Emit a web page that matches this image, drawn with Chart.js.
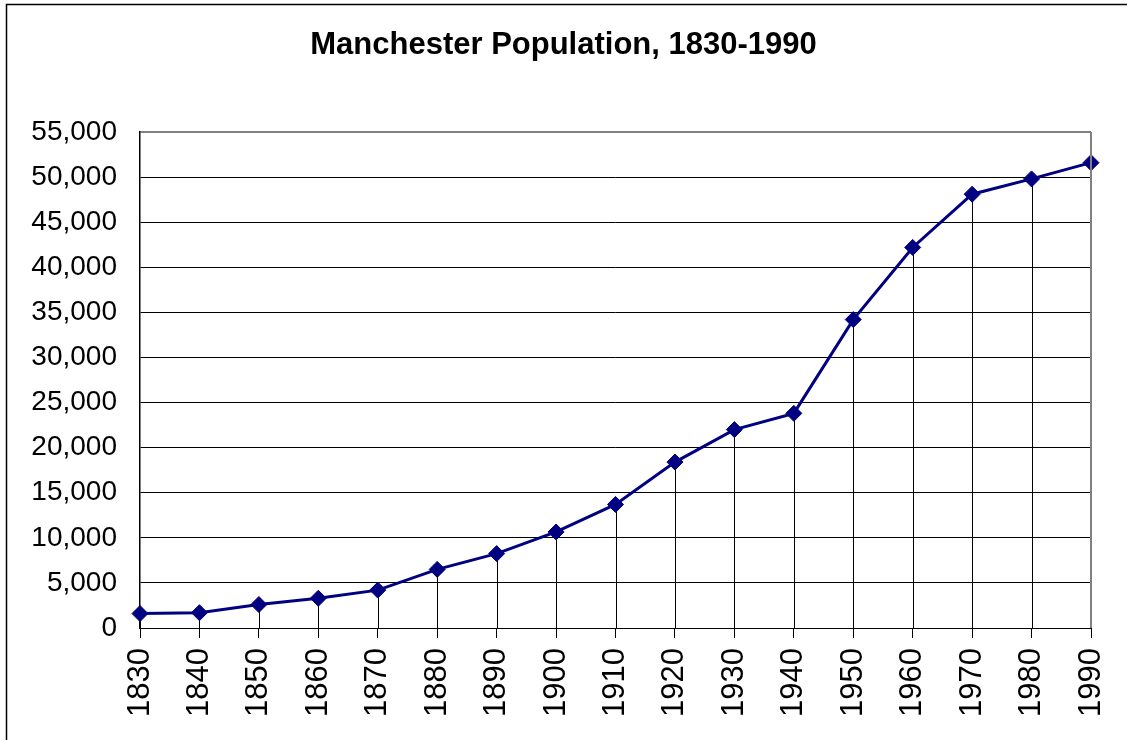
<!DOCTYPE html>
<html>
<head>
<meta charset="utf-8">
<script src="https://cdn.jsdelivr.net/npm/chart.js@4/dist/chart.umd.min.js"></script>
<style>
  body { margin: 0; background: #fff; }
  canvas { display: block; }
</style>
</head>
<body>
<canvas id="grafica" width="1127" height="740"></canvas>
<script>
var years = ['1830', '1840', '1850', '1860', '1870', '1880', '1890', '1900', '1910',
             '1920', '1930', '1940', '1950', '1960', '1970', '1980', '1990'];
var population = [1600, 1700, 2600, 3300, 4200, 6500, 8250, 10650, 13700,
                  18400, 22000, 23800, 34200, 42200, 48100, 49800, 51600];
var yMin = 0, yMax = 55000, yStep = 5000;
var titulo = 'Manchester Population, 1830-1990';

var fuente = '"Liberation Sans", Arial, sans-serif';

// marco exterior, titulo y borde gris del area de trazado
var marcos = {
    id: 'marcos',
    beforeDraw: function(chart){
        var ctx = chart.ctx;
        ctx.save();
        ctx.fillStyle = '#fff';
        ctx.fillRect(0, 0, chart.width, chart.height);
        ctx.strokeStyle = '#000';
        ctx.lineWidth = 1.5;
        ctx.strokeRect(6.5, 4.5, 2000, 2000);
        ctx.fillStyle = '#000';
        ctx.font = 'bold 31px ' + fuente;
        ctx.textAlign = 'center';
        ctx.textBaseline = 'alphabetic';
        ctx.fillText(titulo, chart.width / 2, 54);
        ctx.restore();
    },
    afterDraw: function(chart){
        var ctx = chart.ctx, a = chart.chartArea;
        ctx.save();
        ctx.strokeStyle = '#808080';
        ctx.lineWidth = 2;
        ctx.beginPath();
        ctx.moveTo(a.right, a.top);
        ctx.lineTo(a.right, a.bottom);
        ctx.stroke();
        ctx.restore();
    }
};

// lineas verticales desde cada punto hasta el eje
var caidas = {
    id: 'caidas',
    beforeDatasetsDraw: function(chart){
        var ctx = chart.ctx, a = chart.chartArea;
        var meta = chart.getDatasetMeta(0);
        ctx.save();
        ctx.strokeStyle = '#000';
        ctx.lineWidth = 1;
        meta.data.forEach(function(p){
            var x = Math.round(p.x) + 0.5;
            ctx.beginPath();
            ctx.moveTo(x, p.y);
            ctx.lineTo(x, a.bottom);
            ctx.stroke();
        });
        ctx.restore();
    }
};

var chart = new Chart(document.getElementById('grafica').getContext('2d'), {
    type: 'line',
    data: {
        labels: years,
        datasets: [{
            label: 'Population',
            data: population,
            borderColor: '#000080',
            backgroundColor: '#000080',
            borderWidth: 3,
            pointStyle: 'rectRot',
            pointRadius: 8,
            pointBorderWidth: 1,
            pointBackgroundColor: '#000080',
            pointBorderColor: '#000080',
            tension: 0,
            fill: false
        }]
    },
    options: {
        responsive: false,
        animation: false,
        layout: { padding: { left: 0, right: 36, top: 132, bottom: 0 } },
        plugins: {
            legend: { display: false },
            tooltip: { enabled: false },
            title: { display: false }
        },
        scales: {
            x: {
                type: 'category',
                offset: false,
                grid: {
                    drawOnChartArea: false,
                    drawTicks: true,
                    tickLength: 10,
                    color: '#000'
                },
                border: { color: '#000', width: 1 },
                ticks: {
                    autoSkip: false,
                    maxRotation: 90,
                    minRotation: 90,
                    padding: 10,
                    color: '#000',
                    font: { family: fuente, size: 31 }
                },
                afterFit: function(s){
                    s.height = 112;
                    s.paddingLeft = 0;
                    s.paddingRight = 0;
                }
            },
            y: {
                min: yMin,
                max: yMax,
                grid: {
                    drawTicks: false,
                    color: function(c){ return c.tick && c.tick.value === yMax ? '#808080' : '#000'; },
                    lineWidth: function(c){ return c.tick && c.tick.value === yMax ? 2 : 1; }
                },
                border: { color: '#000', width: 1.5 },
                ticks: {
                    stepSize: yStep,
                    padding: 23,
                    color: '#000',
                    font: { family: fuente, size: 28 },
                    callback: function(v){ return v.toLocaleString('en-US'); }
                },
                afterFit: function(s){ s.width = 140; }
            }
        }
    },
    plugins: [marcos, caidas]
});
</script>
</body>
</html>
